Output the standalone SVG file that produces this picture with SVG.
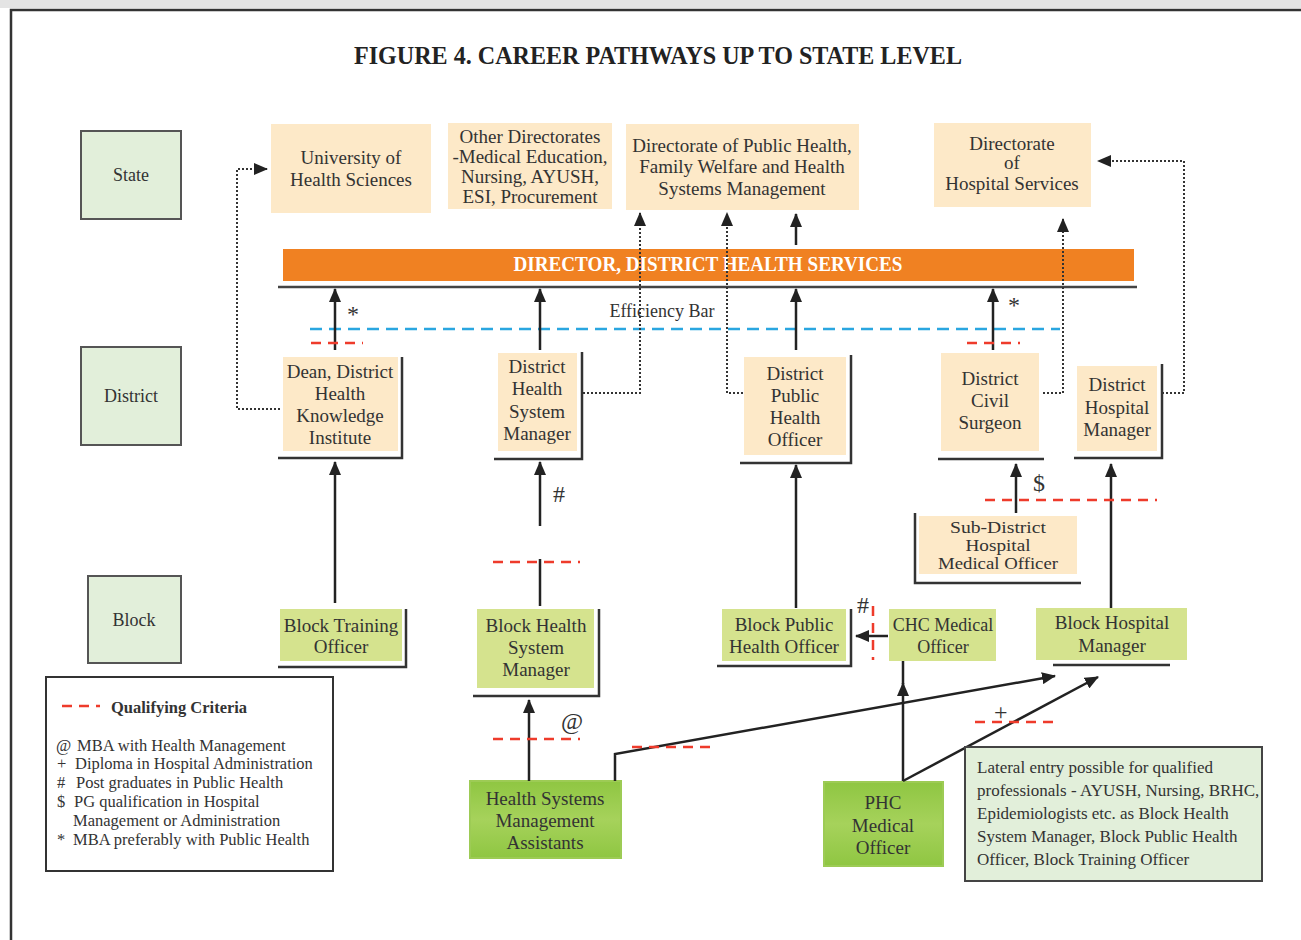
<svg xmlns="http://www.w3.org/2000/svg" width="1301" height="940" viewBox="0 0 1301 940">
<defs>
<style>
text{font-family:"Liberation Serif","Times New Roman",serif;fill:#333;}
.n{font-size:19px;text-anchor:middle;}
.s{font-size:17px;text-anchor:middle;}
.lv{font-size:18px;text-anchor:middle;}
.lg{font-size:16.5px;}
.lat{font-size:17px;}
.sym{font-size:24px;}
.peach{fill:#fde9c8;}
.lvl{fill:#e2efda;stroke:#555;stroke-width:2;}
.blk{fill:#d5e38e;}
.sh{fill:none;stroke:#333;stroke-width:2.5;}
.arr{fill:none;stroke:#222;stroke-width:2.5;marker-end:url(#ah);}
.ln{fill:none;stroke:#222;stroke-width:2.5;}
.dot{fill:none;stroke:#333;stroke-width:2;stroke-dasharray:2 2;marker-end:url(#ah);}
.red{fill:none;stroke:#ee3b2b;stroke-width:2.5;stroke-dasharray:10 7;}
.blue{fill:none;stroke:#2aa6e0;stroke-width:2.5;stroke-dasharray:12 7;}
.bg{fill:url(#gg);stroke:#9dcb55;stroke-width:2;}
</style>
<marker id="ah" markerUnits="userSpaceOnUse" markerWidth="14" markerHeight="12" refX="13" refY="6" orient="auto">
<path d="M0,0 L14,6 L0,12 z" fill="#222"/>
</marker>
<linearGradient id="gg" x1="0" y1="0" x2="0" y2="1">
<stop offset="0" stop-color="#8fc642"/>
<stop offset="0.5" stop-color="#a6d25b"/>
<stop offset="1" stop-color="#8fc642"/>
</linearGradient>
</defs>
<rect x="0" y="0" width="1301" height="940" fill="#fff"/>
<rect x="0" y="0" width="1301" height="8" fill="#e4e4e4"/>
<path d="M1301,10 H11 V940" fill="none" stroke="#333" stroke-width="2.5"/>

<text x="658" y="64" font-size="25" font-weight="bold" text-anchor="middle" textLength="608" lengthAdjust="spacingAndGlyphs" style="fill:#222">FIGURE 4. CAREER PATHWAYS UP TO STATE LEVEL</text>

<g id="level-state"><rect class="lvl" x="81" y="131" width="100" height="88"/><text class="lv" x="131" y="181">State</text></g>
<g id="level-district"><rect class="lvl" x="81" y="347" width="100" height="98"/><text class="lv" x="131" y="402">District</text></g>
<g id="level-block"><rect class="lvl" x="88" y="576" width="93" height="87"/><text class="lv" x="134" y="626">Block</text></g>

<g id="univ"><rect class="peach" x="271" y="124" width="160" height="89"/><text class="n" x="351" y="164">University of</text><text class="n" x="351" y="186">Health Sciences</text></g>
<g id="other-dir"><rect class="peach" x="448" y="123" width="164" height="86"/><text class="n" x="530" y="143">Other Directorates</text><text class="n" x="530" y="163">-Medical Education,</text><text class="n" x="530" y="183">Nursing, AYUSH,</text><text class="n" x="530" y="203">ESI, Procurement</text></g>
<g id="dph"><rect class="peach" x="626" y="124" width="233" height="86"/><text class="n" x="742" y="152">Directorate of Public Health,</text><text class="n" x="742" y="173">Family Welfare and Health</text><text class="n" x="742" y="195">Systems Management</text></g>
<g id="dhs"><rect class="peach" x="934" y="123" width="157" height="84"/><text class="n" x="1012" y="150">Directorate</text><text class="n" x="1012" y="169">of</text><text class="n" x="1012" y="190">Hospital Services</text></g>

<g id="director"><rect x="283" y="249" width="851" height="32" fill="#f08122"/><text x="708" y="271" font-size="20" font-weight="bold" text-anchor="middle" textLength="389" lengthAdjust="spacingAndGlyphs" style="fill:#fff">DIRECTOR, DISTRICT HEALTH SERVICES</text>
<line x1="278" y1="287" x2="1137" y2="287" stroke="#444" stroke-width="2.5"/></g>
<g id="efficiency"><line class="blue" x1="310" y1="329" x2="1060" y2="329"/><text x="662" y="317" font-size="18" text-anchor="middle">Efficiency Bar</text></g>

<g id="dean"><rect class="peach" x="283" y="357" width="115" height="94"/><path class="sh" d="M402,357 V458 H278"/><text class="n" x="340" y="378">Dean, District</text><text class="n" x="340" y="400">Health</text><text class="n" x="340" y="422">Knowledge</text><text class="n" x="340" y="444">Institute</text></g>
<g id="dhsm"><rect class="peach" x="498" y="353" width="79" height="98"/><path class="sh" d="M582,352 V459 H494"/><text class="n" x="537" y="373">District</text><text class="n" x="537" y="395">Health</text><text class="n" x="537" y="418">System</text><text class="n" x="537" y="440">Manager</text></g>
<g id="dpho"><rect class="peach" x="744" y="357" width="102" height="98"/><path class="sh" d="M851,355 V463 H740"/><text class="n" x="795" y="380">District</text><text class="n" x="795" y="402">Public</text><text class="n" x="795" y="424">Health</text><text class="n" x="795" y="446">Officer</text></g>
<g id="civil"><rect class="peach" x="941" y="353" width="98" height="98"/><path class="sh" d="M938,459 H1044"/><text class="n" x="990" y="385">District</text><text class="n" x="990" y="407">Civil</text><text class="n" x="990" y="429">Surgeon</text></g>
<g id="dhm"><rect class="peach" x="1077" y="366" width="80" height="85"/><path class="sh" d="M1162,364 V458 H1074"/><text class="n" x="1117" y="391">District</text><text class="n" x="1117" y="414">Hospital</text><text class="n" x="1117" y="436">Manager</text></g>
<g id="sdh"><rect class="peach" x="919" y="516" width="158" height="58"/><path class="sh" d="M915,513 V583 H1081"/><text class="s" x="998" y="533" textLength="96" lengthAdjust="spacingAndGlyphs">Sub-District</text><text class="s" x="998" y="551" textLength="65" lengthAdjust="spacingAndGlyphs">Hospital</text><text class="s" x="998" y="569" textLength="120" lengthAdjust="spacingAndGlyphs">Medical Officer</text></g>

<g id="bto"><rect class="blk" x="280" y="609" width="122" height="52"/><path class="sh" d="M406,609 V667 H278"/><text class="n" x="341" y="632">Block Training</text><text class="n" x="341" y="653">Officer</text></g>
<g id="bhsm"><rect class="blk" x="477" y="609" width="117" height="79"/><path class="sh" d="M599,609 V696 H473"/><text class="n" x="536" y="632">Block Health</text><text class="n" x="536" y="654">System</text><text class="n" x="536" y="676">Manager</text></g>
<g id="bpho"><rect class="blk" x="722" y="609" width="124" height="52"/><path class="sh" d="M851,609 V666 H717"/><text class="n" x="784" y="631">Block Public</text><text class="n" x="784" y="653">Health Officer</text></g>
<g id="chc"><rect class="blk" x="889" y="609" width="107" height="52"/><text class="n" x="943" y="631" style="font-size:18px">CHC Medical</text><text class="n" x="943" y="653" style="font-size:18px">Officer</text></g>
<g id="bhm"><rect class="blk" x="1036" y="608" width="151" height="52"/><path class="sh" d="M1053,665 H1170"/><text class="n" x="1112" y="629">Block Hospital</text><text class="n" x="1112" y="652">Manager</text></g>

<g id="hsma"><rect class="bg" x="470" y="781" width="151" height="77"/><text class="n" x="545" y="805">Health Systems</text><text class="n" x="545" y="827">Management</text><text class="n" x="545" y="849">Assistants</text></g>
<g id="phc"><rect class="bg" x="824" y="782" width="119" height="84"/><text class="n" x="883" y="809">PHC</text><text class="n" x="883" y="832">Medical</text><text class="n" x="883" y="854">Officer</text></g>

<g id="connectors">
<path class="arr" d="M335,350 V289"/>
<path class="arr" d="M540,350 V289"/>
<path class="arr" d="M796,350 V289"/>
<path class="arr" d="M993,350 V289"/>
<path class="arr" d="M796,245 V214"/>
<path class="arr" d="M335,603 V462"/>
<path class="arr" d="M540,526 V462"/>
<path class="ln" d="M540,559 V606"/>
<path class="arr" d="M796,608 V465"/>
<path class="arr" d="M1016,513 V464"/>
<path class="arr" d="M1111,608 V464"/>
<path class="arr" d="M888,636 H856"/>
<path class="arr" d="M529,781 V700"/>
<path class="arr" d="M615,781 V754 L1055,676"/>
<path class="arr" d="M903,781 V683"/>
<path class="ln" d="M903,684 V661"/>
<path class="arr" d="M903,781 L1098,677"/>
<path class="dot" d="M280,409 H237 V169 H267"/>
<path class="dot" d="M583,393 H640 V213"/>
<path class="dot" d="M743,393 H727 V213"/>
<path class="dot" d="M1043,393 H1063 V219"/>
<path class="dot" d="M1162,393 H1184 V161 H1098"/>
<line class="red" x1="311" y1="343" x2="363" y2="343"/>
<line class="red" x1="967" y1="343" x2="1020" y2="343"/>
<line class="red" x1="985" y1="500" x2="1157" y2="500"/>
<line class="red" x1="493" y1="562" x2="580" y2="562"/>
<line class="red" x1="493" y1="739" x2="580" y2="739"/>
<line class="red" x1="632" y1="747" x2="717" y2="747"/>
<line class="red" x1="975" y1="722" x2="1060" y2="722"/>
<line class="red" x1="873" y1="606" x2="873" y2="660"/>
<text class="sym" x="347" y="322">*</text>
<text class="sym" x="1008" y="313">*</text>
<text class="sym" x="553" y="502">#</text>
<text class="sym" x="1033" y="491">$</text>
<text class="sym" x="857" y="613">#</text>
<text class="sym" x="561" y="729">@</text>
<text class="sym" x="994" y="720">+</text>
</g>

<g id="legend"><rect x="46" y="677" width="287" height="194" fill="#fff" stroke="#333" stroke-width="2"/>
<line class="red" x1="62" y1="706" x2="100" y2="706"/>
<text class="lg" x="111" y="713" font-weight="bold">Qualifying Criteria</text>
<text class="lg" x="56" y="751">@</text><text class="lg" x="77" y="751">MBA with Health Management</text>
<text class="lg" x="57" y="769">+</text><text class="lg" x="75" y="769">Diploma in Hospital Administration</text>
<text class="lg" x="57" y="788">#</text><text class="lg" x="76" y="788">Post graduates in Public Health</text>
<text class="lg" x="57" y="807">$</text><text class="lg" x="74" y="807">PG qualification in Hospital</text>
<text class="lg" x="73" y="826">Management or Administration</text>
<text class="lg" x="57" y="845">*</text><text class="lg" x="73" y="845">MBA preferably with Public Health</text>
</g>

<g id="lateral"><rect x="965" y="747" width="297" height="134" fill="#e2efda" stroke="#444" stroke-width="2"/>
<text class="lat" x="977" y="773">Lateral entry possible for qualified</text>
<text class="lat" x="977" y="796">professionals - AYUSH, Nursing, BRHC,</text>
<text class="lat" x="977" y="819">Epidemiologists etc. as Block Health</text>
<text class="lat" x="977" y="842">System Manager, Block Public Health</text>
<text class="lat" x="977" y="865">Officer, Block Training Officer</text>
</g>
</svg>
